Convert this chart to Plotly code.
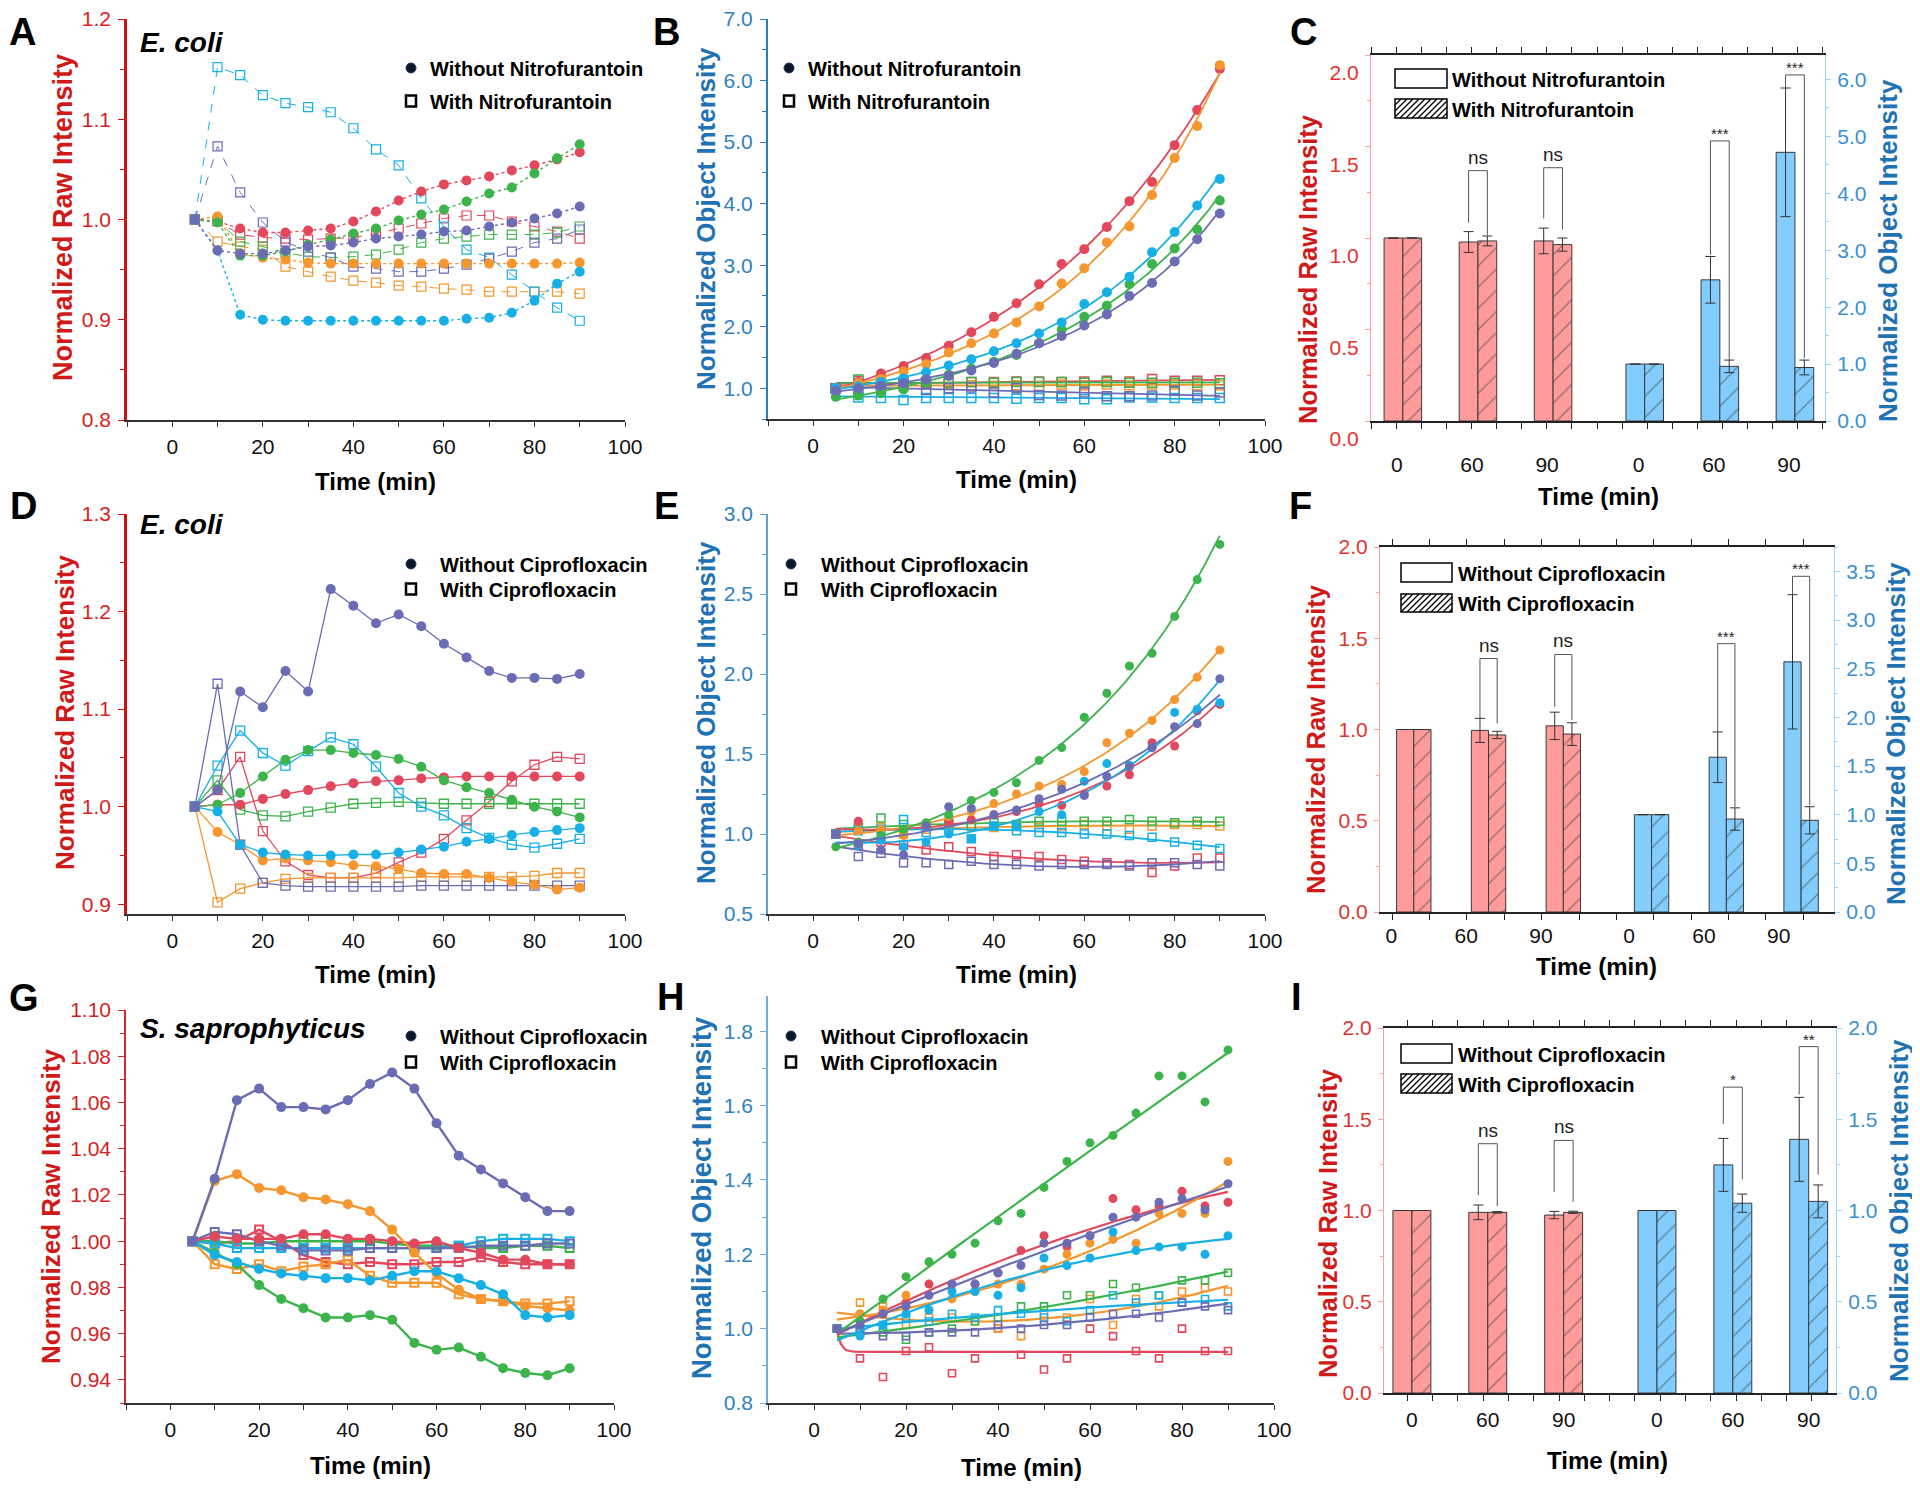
import numpy as np
import plotly.graph_objects as go

W, H = 1920, 1489
OFF = 8  # page body margin of the written html
REG = "Liberation Sans, Arial, sans-serif"

# ---------------------------------------------------------------- data
times = [5, 10, 15, 20, 25, 30, 35, 40, 45, 50, 55, 60, 65, 70, 75, 80, 85, 90]

# Panel A  (E. coli, nitrofurantoin, raw intensity)
a_red_without = [1.000, 0.998, 0.991, 0.987, 0.987, 0.989, 0.991, 0.998, 1.008, 1.019, 1.028, 1.035, 1.039, 1.043, 1.049, 1.054, 1.060, 1.067]
a_orange_without = [1.000, 1.003, 0.966, 0.962, 0.960, 0.957, 0.956, 0.956, 0.956, 0.956, 0.956, 0.956, 0.956, 0.956, 0.956, 0.956, 0.956, 0.957]
a_green_without = [1.000, 0.997, 0.964, 0.964, 0.968, 0.975, 0.980, 0.986, 0.991, 0.999, 1.005, 1.010, 1.018, 1.026, 1.032, 1.046, 1.061, 1.075]
a_cyan_without = [1.000, 0.969, 0.905, 0.900, 0.899, 0.899, 0.899, 0.899, 0.899, 0.899, 0.899, 0.899, 0.901, 0.902, 0.907, 0.919, 0.936, 0.948]
a_purple_without = [1.000, 0.969, 0.966, 0.966, 0.969, 0.973, 0.974, 0.977, 0.981, 0.983, 0.985, 0.988, 0.989, 0.993, 0.997, 1.001, 1.006, 1.013]
a_red_with = [1.000, 0.998, 0.985, 0.982, 0.981, 0.980, 0.981, 0.982, 0.986, 0.991, 0.996, 1.001, 1.004, 1.004, 0.998, 0.993, 0.988, 0.981]
a_orange_with = [1.000, 0.978, 0.973, 0.970, 0.953, 0.948, 0.943, 0.939, 0.937, 0.934, 0.933, 0.931, 0.930, 0.928, 0.928, 0.928, 0.928, 0.926]
a_green_with = [1.000, 0.999, 0.978, 0.973, 0.967, 0.963, 0.962, 0.963, 0.965, 0.970, 0.977, 0.981, 0.983, 0.985, 0.985, 0.985, 0.987, 0.993]
a_cyan_with = [1.000, 1.152, 1.144, 1.124, 1.116, 1.112, 1.107, 1.091, 1.070, 1.054, 1.021, 0.993, 0.970, 0.962, 0.945, 0.928, 0.912, 0.899]
a_purple_with = [1.000, 1.073, 1.027, 0.997, 0.978, 0.968, 0.962, 0.953, 0.951, 0.948, 0.948, 0.951, 0.955, 0.961, 0.968, 0.977, 0.981, 0.990]

# Panel B  (E. coli, nitrofurantoin, object intensity)
b_red_without = [1.00, 1.10, 1.24, 1.36, 1.49, 1.69, 1.91, 2.16, 2.38, 2.69, 3.02, 3.26, 3.62, 4.04, 4.35, 4.95, 5.52, 6.19]
b_orange_without = [1.00, 1.08, 1.15, 1.27, 1.39, 1.58, 1.73, 1.89, 2.07, 2.33, 2.70, 2.95, 3.37, 3.63, 4.14, 4.74, 5.26, 6.25]
b_green_without = [0.86, 0.88, 0.92, 0.98, 1.09, 1.22, 1.32, 1.43, 1.54, 1.73, 1.95, 2.16, 2.34, 2.69, 3.02, 3.27, 3.58, 4.05]
b_cyan_without = [1.00, 1.03, 1.10, 1.16, 1.26, 1.37, 1.47, 1.60, 1.73, 1.89, 2.07, 2.37, 2.56, 2.81, 3.21, 3.54, 3.97, 4.40]
b_purple_without = [0.96, 1.00, 1.04, 1.08, 1.14, 1.20, 1.29, 1.41, 1.56, 1.73, 1.85, 2.02, 2.20, 2.50, 2.71, 3.06, 3.42, 3.84]
b_red_with = [1.00, 1.12, 1.10, 1.08, 1.09, 1.10, 1.10, 1.10, 1.11, 1.11, 1.10, 1.11, 1.12, 1.11, 1.15, 1.12, 1.12, 1.13]
b_orange_with = [1.00, 1.05, 1.05, 1.04, 1.06, 1.07, 1.05, 1.04, 1.05, 1.03, 1.06, 1.05, 1.06, 1.05, 1.06, 1.06, 1.05, 1.05]
b_green_with = [1.00, 1.14, 1.10, 1.09, 1.10, 1.09, 1.10, 1.09, 1.10, 1.10, 1.10, 1.09, 1.10, 1.09, 1.09, 1.09, 1.09, 1.08]
b_cyan_with = [1.00, 0.85, 0.84, 0.81, 0.84, 0.84, 0.84, 0.84, 0.83, 0.84, 0.84, 0.82, 0.82, 0.85, 0.85, 0.84, 0.84, 0.84]
b_purple_with = [1.00, 0.99, 1.00, 1.10, 0.97, 1.00, 1.01, 0.93, 1.00, 0.89, 0.88, 0.93, 0.87, 0.87, 0.88, 0.96, 0.88, 0.93]

# Panel C  (bars, nitrofurantoin)
bar_time_labels = ["0", "60", "90"]
c_raw_without = [1.0, 0.978, 0.984]
c_raw_without_err = [0, 0.057, 0.070]
c_raw_with = [1.0, 0.984, 0.964]
c_raw_with_err = [0, 0.027, 0.036]
c_obj_without = [1.0, 2.48, 4.72]
c_obj_without_err = [0, 0.41, 1.13]
c_obj_with = [1.0, 0.96, 0.94]
c_obj_with_err = [0, 0.11, 0.13]
c_sig = ["ns", "ns", "***", "***"]

# Panel D  (E. coli, ciprofloxacin, raw intensity)
d_red_without = [1.000, 1.002, 1.002, 1.008, 1.013, 1.017, 1.021, 1.024, 1.026, 1.027, 1.029, 1.030, 1.031, 1.031, 1.031, 1.031, 1.031, 1.031]
d_orange_without = [1.000, 0.974, 0.961, 0.945, 0.947, 0.945, 0.943, 0.940, 0.939, 0.936, 0.932, 0.931, 0.931, 0.927, 0.923, 0.920, 0.915, 0.917]
d_green_without = [1.000, 1.002, 1.014, 1.031, 1.048, 1.058, 1.058, 1.055, 1.053, 1.049, 1.041, 1.027, 1.020, 1.014, 1.007, 1.000, 0.995, 0.989]
d_cyan_without = [1.000, 0.995, 0.961, 0.953, 0.951, 0.950, 0.950, 0.951, 0.951, 0.953, 0.956, 0.959, 0.964, 0.967, 0.971, 0.974, 0.976, 0.978]
d_purple_without = [1.000, 1.017, 1.118, 1.102, 1.139, 1.118, 1.223, 1.206, 1.188, 1.197, 1.185, 1.167, 1.153, 1.139, 1.132, 1.132, 1.131, 1.136]
d_red_with = [1.000, 1.017, 1.051, 0.975, 0.944, 0.930, 0.927, 0.927, 0.932, 0.943, 0.953, 0.967, 0.986, 1.005, 1.026, 1.043, 1.051, 1.049]
d_orange_with = [1.000, 0.902, 0.916, 0.922, 0.926, 0.927, 0.927, 0.927, 0.927, 0.927, 0.928, 0.928, 0.928, 0.928, 0.928, 0.929, 0.932, 0.932]
d_green_with = [1.000, 1.027, 0.997, 0.991, 0.990, 0.995, 0.999, 1.003, 1.004, 1.005, 1.004, 1.003, 1.003, 1.003, 1.003, 1.003, 1.003, 1.003]
d_cyan_with = [1.000, 1.042, 1.078, 1.055, 1.042, 1.057, 1.071, 1.064, 1.041, 1.014, 1.000, 0.991, 0.978, 0.968, 0.961, 0.958, 0.962, 0.967]
d_purple_with = [1.000, 1.126, 0.961, 0.922, 0.919, 0.918, 0.918, 0.918, 0.918, 0.918, 0.919, 0.919, 0.919, 0.919, 0.919, 0.919, 0.919, 0.919]

# Panel E  (E. coli, ciprofloxacin, object intensity)
e_red_without = [1.00, 1.08, 0.98, 1.03, 1.06, 1.08, 1.09, 1.12, 1.14, 1.19, 1.18, 1.25, 1.30, 1.37, 1.57, 1.55, 1.77, 1.81]
e_orange_without = [1.00, 1.02, 1.03, 0.99, 1.05, 1.11, 1.14, 1.19, 1.25, 1.30, 1.31, 1.39, 1.57, 1.63, 1.71, 1.84, 1.98, 2.15]
e_green_without = [0.92, 0.95, 0.99, 1.03, 1.07, 1.12, 1.21, 1.26, 1.32, 1.46, 1.54, 1.73, 1.88, 2.05, 2.13, 2.36, 2.59, 2.81]
e_cyan_without = [1.00, 0.93, 0.96, 0.92, 0.95, 1.00, 0.97, 1.05, 1.05, 1.14, 1.12, 1.33, 1.44, 1.43, 1.54, 1.76, 1.78, 1.82]
e_purple_without = [1.00, 0.94, 0.90, 0.87, 1.05, 1.17, 1.16, 1.12, 1.15, 1.22, 1.28, 1.24, 1.36, 1.42, 1.54, 1.67, 1.69, 1.97]
e_red_with = [1.00, 0.93, 0.95, 0.93, 0.90, 0.92, 0.89, 0.86, 0.87, 0.86, 0.84, 0.83, 0.82, 0.81, 0.76, 0.80, 0.85, 0.85]
e_orange_with = [1.00, 1.03, 1.04, 1.00, 1.03, 1.06, 1.05, 1.04, 1.05, 1.04, 1.05, 1.06, 1.05, 1.03, 1.05, 1.06, 1.06, 1.05]
e_green_with = [1.00, 1.04, 1.10, 1.06, 1.05, 1.07, 1.05, 1.07, 1.06, 1.08, 1.08, 1.08, 1.08, 1.09, 1.08, 1.07, 1.08, 1.08]
e_cyan_with = [1.00, 1.02, 1.03, 1.09, 1.01, 1.03, 0.97, 1.05, 1.02, 1.01, 1.01, 1.00, 1.00, 0.99, 0.98, 0.95, 0.93, 0.91]
e_purple_with = [1.00, 0.86, 0.88, 0.82, 0.82, 0.81, 0.83, 0.81, 0.81, 0.80, 0.81, 0.81, 0.81, 0.80, 0.82, 0.82, 0.81, 0.80]

# Panel F  (bars, ciprofloxacin, E. coli)
f_raw_without = [1.0, 0.995, 1.02]
f_raw_without_err = [0, 0.066, 0.075]
f_raw_with = [1.0, 0.97, 0.975]
f_raw_with_err = [0, 0.02, 0.062]
f_obj_without = [1.0, 1.59, 2.57]
f_obj_without_err = [0, 0.26, 0.69]
f_obj_with = [1.0, 0.955, 0.942]
f_obj_with_err = [0, 0.115, 0.14]
f_sig = ["ns", "ns", "***", "***"]

# Panel G  (S. saprophyticus, ciprofloxacin, raw intensity)
g_red_without = [1.000, 1.002, 1.001, 1.001, 1.001, 1.003, 1.003, 1.001, 1.001, 1.000, 0.999, 1.000, 0.997, 0.995, 0.992, 0.992, 0.990, 0.990]
g_orange_without = [1.000, 1.026, 1.029, 1.023, 1.022, 1.019, 1.018, 1.016, 1.013, 1.005, 0.995, 0.986, 0.979, 0.975, 0.974, 0.972, 0.971, 0.970]
g_green_without = [1.000, 0.995, 0.990, 0.981, 0.975, 0.971, 0.967, 0.967, 0.968, 0.966, 0.956, 0.953, 0.954, 0.950, 0.945, 0.943, 0.942, 0.945]
g_cyan_without = [1.000, 0.994, 0.991, 0.988, 0.986, 0.985, 0.984, 0.984, 0.983, 0.985, 0.987, 0.987, 0.984, 0.981, 0.977, 0.968, 0.967, 0.968]
g_purple_without = [1.000, 1.027, 1.061, 1.066, 1.058, 1.058, 1.057, 1.061, 1.068, 1.073, 1.066, 1.051, 1.037, 1.031, 1.025, 1.019, 1.013, 1.013]
g_red_with = [1.000, 0.999, 1.000, 1.005, 1.000, 0.994, 0.991, 0.990, 0.991, 0.990, 0.990, 0.991, 0.991, 0.993, 0.991, 0.990, 0.990, 0.990]
g_orange_with = [1.000, 0.990, 0.988, 0.990, 0.987, 0.989, 0.990, 0.992, 0.985, 0.982, 0.982, 0.982, 0.977, 0.975, 0.974, 0.973, 0.973, 0.974]
g_green_with = [1.000, 1.000, 0.999, 0.999, 1.000, 1.000, 1.000, 1.000, 1.000, 0.999, 0.998, 0.998, 0.998, 0.997, 0.997, 0.998, 0.998, 0.997]
g_cyan_with = [1.000, 0.999, 0.997, 0.997, 0.997, 0.997, 0.997, 0.997, 0.997, 0.997, 0.997, 0.997, 0.998, 1.000, 1.001, 1.001, 1.001, 1.000]
g_purple_with = [1.000, 1.004, 1.003, 1.000, 0.998, 0.996, 0.996, 0.996, 0.997, 0.997, 0.997, 0.997, 0.997, 0.998, 0.998, 0.998, 0.999, 0.999]

# Panel H  (S. saprophyticus, ciprofloxacin, object intensity)
h_red_without = [1.00, 1.02, 1.04, 1.07, 1.12, 1.12, 1.12, 1.15, 1.21, 1.25, 1.22, 1.25, 1.35, 1.32, 1.33, 1.37, 1.33, 1.34]
h_orange_without = [1.00, 1.04, 1.05, 1.09, 1.05, 1.08, 1.10, 1.12, 1.12, 1.16, 1.20, 1.23, 1.24, 1.23, 1.31, 1.31, 1.31, 1.45]
h_green_without = [1.00, 1.02, 1.08, 1.14, 1.18, 1.20, 1.23, 1.29, 1.31, 1.38, 1.45, 1.50, 1.52, 1.58, 1.68, 1.68, 1.61, 1.75]
h_cyan_without = [1.00, 0.98, 1.01, 1.04, 1.05, 1.10, 1.10, 1.09, 1.11, 1.19, 1.17, 1.19, 1.26, 1.21, 1.22, 1.22, 1.20, 1.25]
h_purple_without = [1.00, 1.01, 1.04, 1.06, 1.09, 1.12, 1.12, 1.15, 1.17, 1.23, 1.23, 1.25, 1.30, 1.30, 1.34, 1.35, 1.32, 1.39]
h_red_with = [1.00, 0.92, 0.87, 0.94, 0.95, 0.88, 0.92, 1.00, 0.93, 0.89, 0.92, 1.00, 0.98, 0.94, 0.92, 1.00, 0.94, 0.94]
h_orange_with = [1.00, 1.07, 1.06, 1.01, 1.03, 1.03, 1.02, 1.00, 0.98, 1.04, 1.03, 1.08, 1.01, 1.08, 1.06, 1.10, 1.11, 1.10]
h_green_with = [1.00, 1.00, 0.99, 0.97, 0.99, 1.00, 1.02, 1.03, 1.06, 1.06, 1.09, 1.09, 1.12, 1.11, 1.09, 1.13, 1.13, 1.15]
h_cyan_with = [1.00, 1.00, 1.01, 1.03, 1.02, 1.04, 1.03, 1.05, 1.04, 1.03, 1.02, 1.05, 1.09, 1.07, 1.09, 1.07, 1.08, 1.06]
h_purple_with = [1.00, 0.99, 0.98, 0.98, 0.99, 0.99, 0.99, 1.01, 1.00, 1.01, 1.01, 1.03, 1.04, 1.04, 1.03, 1.07, 1.06, 1.05]

# Panel I  (bars, ciprofloxacin, S. saprophyticus)
i_raw_without = [1.0, 0.99, 0.975]
i_raw_without_err = [0, 0.04, 0.02]
i_raw_with = [1.0, 0.99, 0.99]
i_raw_with_err = [0, 0.004, 0.006]
i_obj_without = [1.0, 1.25, 1.39]
i_obj_without_err = [0, 0.145, 0.23]
i_obj_with = [1.0, 1.04, 1.05]
i_obj_with_err = [0, 0.05, 0.09]
i_sig = ["ns", "ns", "*", "**"]

# ---------------------------------------------------------------- styles
COL = dict(red="#e2475c", orange="#f5962f", green="#3db44b", cyan="#17b0e6", purple="#6b6db4")
ORDER = ["red", "orange", "green", "cyan", "purple"]
RED_AX = "#d40f0f"
RED_LBL = "#d81e1e"
BLUE_AX = "#2a7dbd"
BLUE_LBL = "#2f82c0"
RED_BAR = "#ff9b9b"
BLUE_BAR = "#82cdfd"
TICK_FS = 21
LEG_FS = 20


def fx(x):
    return (x - OFF) / W


def fy(y):
    return 1 - (y - OFF) / H


def akey(aid):
    return ("xaxis" if aid[0] == "x" else "yaxis") + aid[1:]


fig = go.Figure()
layout = dict(width=W, height=H, autosize=False,
              margin=dict(l=0, r=0, t=0, b=0, pad=0, autoexpand=False), paper_bgcolor="white",
              plot_bgcolor="rgba(0,0,0,0)", showlegend=False, barmode="overlay", hovermode=False,
              font=dict(family=REG, size=20, color="#111"))
shapes = []
annotations = []


def text(x, y, s, size, color="#000", family=REG, xanchor="center", yanchor="middle", angle=0):
    annotations.append(dict(x=fx(x), y=fy(y), xref="paper", yref="paper", text=s, showarrow=False,
                            font=dict(size=size, color=color, family=family), xanchor=xanchor,
                            yanchor=yanchor, textangle=angle))


def domains(box):
    x0, x1, y0, y1 = box
    return [fx(x0), fx(x1)], [fy(y1), fy(y0)]


def line_axes(xid, yid, box, yrange, ydtick, yminor, yfmt, axcolor, lblcolor, axwidth):
    xd, yd = domains(box)
    layout[akey(xid)] = dict(domain=xd, anchor=yid, range=[-10, 100], showline=True, linecolor="#333",
                             linewidth=1.5, ticks="outside", ticklen=5, tickwidth=1.2, tickcolor="#333",
                             tick0=0, dtick=20, automargin=False, ticklabeloverflow="allow",
                             minor=dict(ticks="outside", tick0=0, dtick=10, ticklen=5, tickwidth=1.2, tickcolor="#333"),
                             showgrid=False, zeroline=False, ticklabelstandoff=2,
                             tickfont=dict(family=REG, size=TICK_FS, color="#111"))
    layout[akey(yid)] = dict(domain=yd, anchor=xid, range=yrange, showline=True, linecolor=axcolor,
                             linewidth=axwidth, ticks="outside", ticklen=6, tickwidth=1.2, tickcolor=axcolor,
                             tick0=0, dtick=ydtick, automargin=False, ticklabelstandoff=3,
                             ticklabeloverflow="allow",
                             minor=dict(ticks="outside", dtick=yminor, ticklen=4, tickwidth=1, tickcolor=axcolor),
                             tickformat=yfmt, showgrid=False, zeroline=False,
                             tickfont=dict(family=REG, size=TICK_FS, color=lblcolor))


def scatter(xid, yid, xs, ys, color, hollow, mode, dash=None, lw=1.0, msize=8, mlw=1.2):
    marker = dict(size=msize, color=color)
    if hollow:
        marker.update(symbol="square-open", line=dict(width=mlw, color=color))
    else:
        marker.update(symbol="circle", line=dict(width=0))
    tr = dict(x=xs, y=ys, mode=mode, xaxis=xid, yaxis=yid, marker=marker, hoverinfo="skip")
    if "lines" in mode:
        tr["line"] = dict(color=color, width=lw, dash=dash)
    fig.add_trace(go.Scatter(**tr))


def fit_line(xid, yid, ys, color, kind, lw=1.8):
    x = np.array(times, dtype=float)
    y = np.array(ys, dtype=float)
    xs = np.linspace(times[0], times[-1], 200)
    if kind == "logquad":
        c = np.polyfit(x, np.log(y), 2)
        fy_ = np.exp(np.polyval(c, xs))
    elif kind == "lin":
        c = np.polyfit(x, y, 1)
        fy_ = np.polyval(c, xs)
    elif kind == "quad":
        c = np.polyfit(x, y, 2)
        fy_ = np.polyval(c, xs)
    else:  # fast decay to plateau
        plateau = y[1:].mean()
        fy_ = plateau + (y[0] - plateau) * np.exp(-(xs - times[0]) / 0.8)
    fig.add_trace(go.Scatter(x=xs, y=fy_, mode="lines", xaxis=xid, yaxis=yid,
                             line=dict(color=color, width=lw), hoverinfo="skip"))


def legend_markers(cx, cy1, cy2, t1, t2, tx):
    r = 5
    shapes.append(dict(type="circle", xref="paper", yref="paper", x0=fx(cx - r), x1=fx(cx + r),
                       y0=fy(cy1 + r), y1=fy(cy1 - r), fillcolor="#0d1726", line=dict(color="#1b3a6b", width=1)))
    shapes.append(dict(type="rect", xref="paper", yref="paper", x0=fx(cx - 5), x1=fx(cx + 5),
                       y0=fy(cy2 + 5.5), y1=fy(cy2 - 5.5), fillcolor="white", line=dict(color="#000", width=2.5)))
    text(tx, cy1 + 1, "<b>" + t1 + "</b>", LEG_FS, "#000", REG, xanchor="left")
    text(tx, cy2 + 1, "<b>" + t2 + "</b>", LEG_FS, "#000", REG, xanchor="left")


def hatch_box(x0, x1, y0, y1):
    shapes.append(dict(type="rect", xref="paper", yref="paper", x0=fx(x0), x1=fx(x1), y0=fy(y1), y1=fy(y0),
                       fillcolor="white", line=dict(color="#000", width=1.5)))
    h = y1 - y0
    s = -h
    while s < (x1 - x0):
        sx, sy = x0 + s, y1
        ex, ey = x0 + s + h, y0
        if sx < x0:
            sy -= (x0 - sx)
            sx = x0
        if ex > x1:
            ey += (ex - x1)
            ex = x1
        if ex > sx:
            shapes.append(dict(type="line", xref="paper", yref="paper", x0=fx(sx), y0=fy(sy),
                               x1=fx(ex), y1=fy(ey), line=dict(color="#000", width=1.3)))
        s += 6


def bar_legend(x0, x1, r1, r2, t1, t2, tx):
    shapes.append(dict(type="rect", xref="paper", yref="paper", x0=fx(x0), x1=fx(x1), y0=fy(r1[1]),
                       y1=fy(r1[0]), fillcolor="white", line=dict(color="#000", width=1.5)))
    hatch_box(x0, x1, r2[0], r2[1])
    text(tx, (r1[0] + r1[1]) / 2 + 1, "<b>" + t1 + "</b>", LEG_FS, "#000", REG, xanchor="left")
    text(tx, (r2[0] + r2[1]) / 2 + 1, "<b>" + t2 + "</b>", LEG_FS, "#000", REG, xanchor="left")


def errs(e):
    return dict(type="data", array=[v if v > 0 else None for v in e], color="#333", thickness=1, width=5)


def bar_panel(xid, yid, y2id, box, gap, w, xrange, label_off, mtick0, mdtick, y2range, y2dtick, y2minor,
              standoff, lshift, raw_wo, raw_wo_e, raw_w, raw_w_e, obj_wo, obj_wo_e, obj_w, obj_w_e,
              sig, brackets):
    centers = [i + 1 + (gap if i >= 3 else 0) for i in range(6)]
    xd, yd = domains(box)
    layout[akey(xid)] = dict(domain=xd, anchor=yid, range=xrange, showline=True, linecolor="#222", linewidth=1.5,
                             mirror="ticks", ticks="", tickmode="array", automargin=False,
                             tickvals=[c + label_off for c in centers], ticktext=bar_time_labels * 2,
                             minor=dict(ticks="outside", tickmode="linear", tick0=mtick0, dtick=mdtick, ticklen=6,
                                        tickwidth=1.2, tickcolor="#222"),
                             showgrid=False, zeroline=False, ticklabelstandoff=standoff,
                             ticklabeloverflow="allow",
                             tickfont=dict(family=REG, size=TICK_FS, color="#111"))
    layout[akey(yid)] = dict(domain=yd, anchor=xid, range=[0, 2.0], showline=True, linecolor="#f4a3a3",
                             linewidth=1.2, ticks="outside", ticklen=5, tickcolor="#f4a3a3", tick0=0, dtick=0.5,
                             minor=dict(ticks="outside", dtick=0.25, ticklen=3, tickcolor="#f4a3a3"),
                             tickformat=".1f", showgrid=False, zeroline=False, ticklabelshift=lshift,
                             automargin=False, ticklabelstandoff=2, ticklabeloverflow="allow",
                             tickfont=dict(family=REG, size=TICK_FS, color="#e0342f"))
    layout[akey(y2id)] = dict(domain=yd, anchor=xid, overlaying=yid, side="right", range=y2range, showline=True,
                              linecolor="#9ad6fb", linewidth=1.2, ticks="outside", ticklen=5, tickcolor="#9ad6fb",
                              tick0=0, dtick=y2dtick, automargin=False, ticklabelstandoff=2,
                              ticklabeloverflow="allow",
                              minor=dict(ticks="outside", dtick=y2minor, ticklen=3, tickcolor="#9ad6fb"),
                              tickformat=".1f", showgrid=False, zeroline=False,
                              tickfont=dict(family=REG, size=TICK_FS, color="#3a8fd0"))
    left, right = centers[:3], centers[3:]
    pat = dict(shape="/", fgcolor="#3a3a3a", size=15, solidity=0.09, fillmode="overlay")
    line = dict(color="#3a3a3a", width=1)
    fig.add_trace(go.Bar(x=[c - w / 2 for c in left], y=raw_wo, width=w, xaxis=xid, yaxis=yid,
                         marker=dict(color=RED_BAR, line=line), error_y=errs(raw_wo_e), hoverinfo="skip"))
    fig.add_trace(go.Bar(x=[c + w / 2 for c in left], y=raw_w, width=w, xaxis=xid, yaxis=yid,
                         marker=dict(color=RED_BAR, line=line, pattern=pat), error_y=errs(raw_w_e), hoverinfo="skip"))
    fig.add_trace(go.Bar(x=[c - w / 2 for c in right], y=obj_wo, width=w, xaxis=xid, yaxis=y2id,
                         marker=dict(color=BLUE_BAR, line=line), error_y=errs(obj_wo_e), hoverinfo="skip"))
    fig.add_trace(go.Bar(x=[c + w / 2 for c in right], y=obj_w, width=w, xaxis=xid, yaxis=y2id,
                         marker=dict(color=BLUE_BAR, line=line, pattern=pat), error_y=errs(obj_w_e), hoverinfo="skip"))
    for lab, (g, top, lb, rb, side) in zip(sig, brackets):
        xl = centers[g] - w / 2
        xr = centers[g] + w / 2
        yref = yid if side == "L" else y2id
        shapes.append(dict(type="path", xref=xid, yref=yref,
                           path=f"M {xl},{lb} L {xl},{top} L {xr},{top} L {xr},{rb}",
                           line=dict(color="#555", width=1)))
        small = "*" in lab
        annotations.append(dict(x=(xl + xr) / 2, y=top, xref=xid, yref=yref, text=lab, showarrow=False,
                                xanchor="center", yanchor="bottom", yshift=(-3 if small else 1),
                                font=dict(family=REG, size=(15 if small else 19), color="#222")))


# ---------------------------------------------------------------- panel A
line_axes("x", "y", (127, 625, 19, 420), [0.8, 1.2], 0.1, 0.05, ".1f", RED_AX, RED_LBL, 2.5)
a_without = [a_red_without, a_orange_without, a_green_without, a_cyan_without, a_purple_without]
a_with = [a_red_with, a_orange_with, a_green_with, a_cyan_with, a_purple_with]
for name, ys in zip(ORDER, a_with):
    scatter("x", "y", times, ys, COL[name], True, "lines+markers", dash="dash", lw=1.0, msize=9, mlw=1.2)
for name, ys in zip(ORDER, a_without):
    scatter("x", "y", times, ys, COL[name], False, "lines+markers", dash="dot", lw=1.4, msize=10)

# ---------------------------------------------------------------- panel B
line_axes("x2", "y2", (768, 1265, 19, 419), [0.5, 7.0], 1.0, 0.5, ".1f", BLUE_AX, BLUE_LBL, 2.0)
b_without = [b_red_without, b_orange_without, b_green_without, b_cyan_without, b_purple_without]
b_with = [b_red_with, b_orange_with, b_green_with, b_cyan_with, b_purple_with]
for name, ys in zip(ORDER, b_with):
    fit_line("x2", "y2", ys, COL[name], "lin")
    scatter("x2", "y2", times, ys, COL[name], True, "markers", msize=9, mlw=1.5)
for name, ys in zip(ORDER, b_without):
    fit_line("x2", "y2", ys, COL[name], "logquad")
    scatter("x2", "y2", times, ys, COL[name], False, "markers", msize=10)

# ---------------------------------------------------------------- panel C
bar_panel("x3", "y3", "y4", (1371, 1825, 55, 421), 0.22, 0.25, [0.576, 6.62], -0.08, 0.918, 1 / 3,
          [0, 6.43], 1.0, 0.5, 24, 18,
          c_raw_without, c_raw_without_err, c_raw_with, c_raw_with_err,
          c_obj_without, c_obj_without_err, c_obj_with, c_obj_with_err, c_sig,
          [(1, 1.368, 1.084, 1.016, "L"), (2, 1.384, 1.107, 1.047, "L"),
           (4, 4.92, 2.92, 1.05, "R"), (5, 6.08, 5.84, 1.10, "R")])

# ---------------------------------------------------------------- panel D
line_axes("x4", "y5", (127, 625, 514, 914), [0.89, 1.3], 0.1, 0.05, ".1f", RED_AX, RED_LBL, 2.5)
d_without = [d_red_without, d_orange_without, d_green_without, d_cyan_without, d_purple_without]
d_with = [d_red_with, d_orange_with, d_green_with, d_cyan_with, d_purple_with]
for name, ys in zip(ORDER, d_with):
    scatter("x4", "y5", times, ys, COL[name], True, "lines+markers", lw=1.3, msize=9, mlw=1.3)
for name, ys in zip(ORDER, d_without):
    scatter("x4", "y5", times, ys, COL[name], False, "lines+markers", lw=1.3, msize=10)

# ---------------------------------------------------------------- panel E
line_axes("x5", "y6", (768, 1265, 514, 914), [0.5, 3.0], 0.5, 0.25, ".1f", "#5da2d6", BLUE_LBL, 1.5)
e_without = [e_red_without, e_orange_without, e_green_without, e_cyan_without, e_purple_without]
e_with = [e_red_with, e_orange_with, e_green_with, e_cyan_with, e_purple_with]
for name, ys in zip(ORDER, e_with):
    fit_line("x5", "y6", ys, COL[name], "quad")
    scatter("x5", "y6", times, ys, COL[name], True, "markers", msize=8, mlw=1.5)
for name, ys in zip(ORDER, e_without):
    fit_line("x5", "y6", ys, COL[name], "logquad")
    scatter("x5", "y6", times, ys, COL[name], False, "markers", msize=9)

# ---------------------------------------------------------------- panel F
bar_panel("x6", "y7", "y8", (1380, 1834, 547, 912), 0.18, 0.23, [0.548, 6.62], -0.3, 0.71, 0.5,
          [0, 3.75], 0.5, 0.25, 4, 0,
          f_raw_without, f_raw_without_err, f_raw_with, f_raw_with_err,
          f_obj_without, f_obj_without_err, f_obj_with, f_obj_with_err, f_sig,
          [(1, 1.389, 1.06, 1.033, "L"), (2, 1.411, 1.124, 1.051, "L"),
           (4, 2.757, 1.849, 1.079, "R"), (5, 3.449, 3.264, 1.096, "R")])

# ---------------------------------------------------------------- panel G
line_axes("x7", "y9", (126, 614, 1010, 1403), [0.93, 1.10], 0.02, 0.01, ".2f", "#d42a2a", RED_LBL, 1.6)
g_without = [g_red_without, g_orange_without, g_green_without, g_cyan_without, g_purple_without]
g_with = [g_red_with, g_orange_with, g_green_with, g_cyan_with, g_purple_with]
for name, ys in zip(ORDER, g_with):
    scatter("x7", "y9", times, ys, COL[name], True, "lines+markers", lw=2.4, msize=8, mlw=2)
for name, ys in zip(ORDER, g_without):
    scatter("x7", "y9", times, ys, COL[name], False, "lines+markers", lw=2.4, msize=10)

# ---------------------------------------------------------------- panel H
line_axes("x8", "y10", (768, 1274, 996, 1403), [0.8, 1.895], 0.2, 0.1, ".1f", "#6eaedb", BLUE_LBL, 1.5)
h_without = [h_red_without, h_orange_without, h_green_without, h_cyan_without, h_purple_without]
h_with = [h_red_with, h_orange_with, h_green_with, h_cyan_with, h_purple_with]
for name, ys in zip(ORDER, h_with):
    fit_line("x8", "y10", ys, COL[name], "decay" if name == "red" else "quad", lw=2.2)
    scatter("x8", "y10", times, ys, COL[name], True, "markers", msize=7, mlw=1.6)
for name, ys in zip(ORDER, h_without):
    fit_line("x8", "y10", ys, COL[name], "quad", lw=2.2)
    scatter("x8", "y10", times, ys, COL[name], False, "markers", msize=9)

# ---------------------------------------------------------------- panel I
bar_panel("x9", "y11", "y12", (1384, 1836, 1028, 1393), 0.23, 0.25, [0.632, 6.59], 0.0, 0.94, 1 / 3,
          [0, 2.0], 0.5, 0.25, 7, 0,
          i_raw_without, i_raw_without_err, i_raw_with, i_raw_with_err,
          i_obj_without, i_obj_without_err, i_obj_with, i_obj_with_err, i_sig,
          [(1, 1.366, 1.084, 1.024, "L"), (2, 1.384, 1.102, 1.048, "L"),
           (4, 1.676, 1.475, 1.17, "R"), (5, 1.898, 1.636, 1.197, "R")])

# ---------------------------------------------------------------- texts
for letter, x in [("A", 22), ("B", 666), ("C", 1303)]:
    text(x, OFF + 1, "<b>" + letter + "</b>", 38, "#000", REG, yanchor="top")
for letter, x, y in [("D", 23, 506), ("E", 666, 506), ("F", 1300, 506), ("G", 24, 998), ("H", 670, 997),
                     ("I", 1296, 997)]:
    text(x, y, "<b>" + letter + "</b>", 38, "#000", REG)

text(138, 42, "<b><i>E. coli</i></b>", 28, "#000", REG, xanchor="left")
text(138, 525, "<b><i>E. coli</i></b>", 28, "#000", REG, xanchor="left")
text(138, 1028, "<b><i>S. saprophyticus</i></b>", 28, "#000", REG, xanchor="left")

legend_markers(411, 68, 101, "Without Nitrofurantoin", "With Nitrofurantoin", 428)
legend_markers(789, 68, 101, "Without Nitrofurantoin", "With Nitrofurantoin", 806)
legend_markers(411, 564, 589, "Without Ciprofloxacin", "With Ciprofloxacin", 438)
legend_markers(791, 564, 589, "Without Ciprofloxacin", "With Ciprofloxacin", 819)
legend_markers(411, 1036, 1062, "Without Ciprofloxacin", "With Ciprofloxacin", 438)
legend_markers(791, 1036, 1062, "Without Ciprofloxacin", "With Ciprofloxacin", 819)

bar_legend(1395, 1447, (69, 88), (99, 118), "Without Nitrofurantoin", "With Nitrofurantoin", 1450)
bar_legend(1401, 1452, (563, 582), (594, 612), "Without Ciprofloxacin", "With Ciprofloxacin", 1456)
bar_legend(1401, 1452, (1044, 1063), (1074, 1093), "Without Ciprofloxacin", "With Ciprofloxacin", 1456)

RT = "#d01a1a"
BT = "#1f72b4"
raw_t = "<b>Normalized Raw Intensity</b>"
obj_t = "<b>Normalized Object Intensity</b>"
text(63, 218, raw_t, 27, RT, REG, angle=-90)
text(706, 219, obj_t, 26, BT, REG, angle=-90)
text(1308, 269, raw_t, 25.5, RT, REG, angle=-90)
text(1888, 251, obj_t, 26, BT, REG, angle=-90)
text(65, 713, raw_t, 26, RT, REG, angle=-90)
text(706, 713, obj_t, 26, BT, REG, angle=-90)
text(1316, 739, raw_t, 25.5, RT, REG, angle=-90)
text(1896, 734, obj_t, 26, BT, REG, angle=-90)
text(51, 1207, raw_t, 26, RT, REG, angle=-90)
text(701, 1198, obj_t, 27.5, BT, REG, angle=-90)
text(1328, 1223, raw_t, 25.5, RT, REG, angle=-90)
text(1899, 1211, obj_t, 26, BT, REG, angle=-90)

for x, y in [(375, 481), (1016, 479), (1598, 497), (375, 974), (1016, 974), (1596, 966),
             (370, 1465), (1022, 1467), (1607, 1460)]:
    text(x, y, "<b>Time (min)</b>", 24, "#000", REG)

layout["shapes"] = shapes
layout["annotations"] = annotations
fig.update_layout(**layout)
fig.write_html("out.html")
